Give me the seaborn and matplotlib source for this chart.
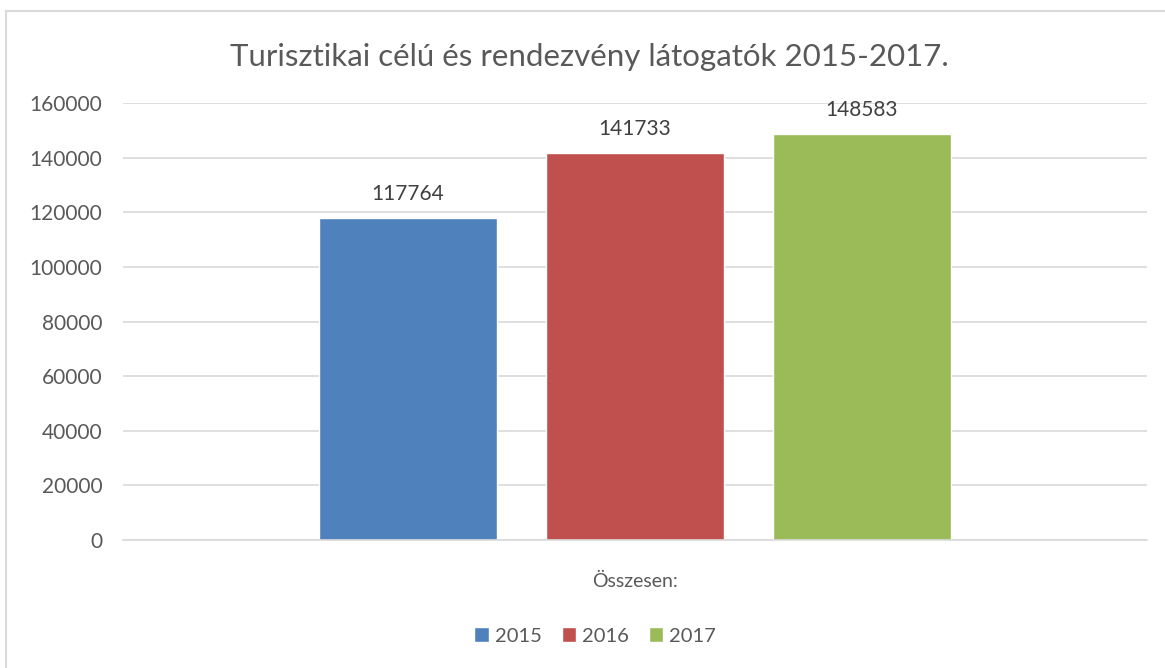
import matplotlib
matplotlib.use("Agg")
import matplotlib.pyplot as plt
import seaborn as sns
import pandas as pd
from matplotlib.patches import Rectangle

# --- DATOS ---
category = ["Összesen:"]
years = ["2015", "2016", "2017"]
values = [117764, 141733, 148583]
colors = ["#4F81BD", "#C0504D", "#9BBB59"]
y_ticks = [0, 20000, 40000, 60000, 80000, 100000, 120000, 140000, 160000]
title = "Turisztikai célú és rendezvény látogatók 2015-2017."

df = pd.DataFrame({
    "kategoria": category * len(years),
    "ev": years,
    "latogatok": values,
})

sns.set_theme(style="white")
plt.rcParams["font.family"] = ["Lato", "DejaVu Sans"]

text_grey = "#595959"
grid_grey = "#D9D9D9"

fig = plt.figure(figsize=(11.65, 6.68), dpi=100)
ax = fig.add_axes([123 / 1165, 1 - 540 / 668, 1024 / 1165, 437 / 668])

sns.barplot(data=df, x="kategoria", y="latogatok", hue="ev",
            palette=colors, width=0.665, gap=0.216, saturation=1,
            ax=ax, legend=True)

ax.set_ylim(0, 160000)
ax.set_xlim(-0.5, 0.5)
ax.set_yticks(y_ticks)
ax.set_yticklabels([str(t) for t in y_ticks])
ax.yaxis.grid(True, color=grid_grey, linewidth=1.2)
ax.set_axisbelow(True)
for side in ["top", "right", "left"]:
    ax.spines[side].set_visible(False)
ax.spines["bottom"].set_color(grid_grey)
ax.spines["bottom"].set_linewidth(1.2)
ax.tick_params(axis="y", length=0, pad=15, labelsize=15, labelcolor=text_grey)
ax.tick_params(axis="x", length=0, pad=24, labelsize=14, labelcolor=text_grey)
ax.set_xlabel("")
ax.set_ylabel("")

for cont in ax.containers:
    ax.bar_label(cont, fmt="%d", padding=10, fontsize=15, color="#404040")

handles, labels = ax.get_legend_handles_labels()
ax.legend(handles, labels, loc="center", bbox_to_anchor=(595 / 1165, 1 - 636 / 668),
          bbox_transform=fig.transFigure, ncol=3, frameon=False,
          handlelength=0.7, handleheight=0.7, handletextpad=0.3,
          columnspacing=1.0, fontsize=14.5, labelcolor=text_grey)

fig.text(589 / 1165, 1 - 57 / 668, title, ha="center", va="center",
         fontsize=22.5, color=text_grey)

# marco del grafico (solo visible arriba e izquierda)
fig.patches.append(Rectangle((6 / 1165, -0.2), 1.2, 0.2 + 1 - 11 / 668,
                             transform=fig.transFigure, fill=False,
                             edgecolor=grid_grey, linewidth=1.5))

fig.savefig("out.png", dpi=100)
